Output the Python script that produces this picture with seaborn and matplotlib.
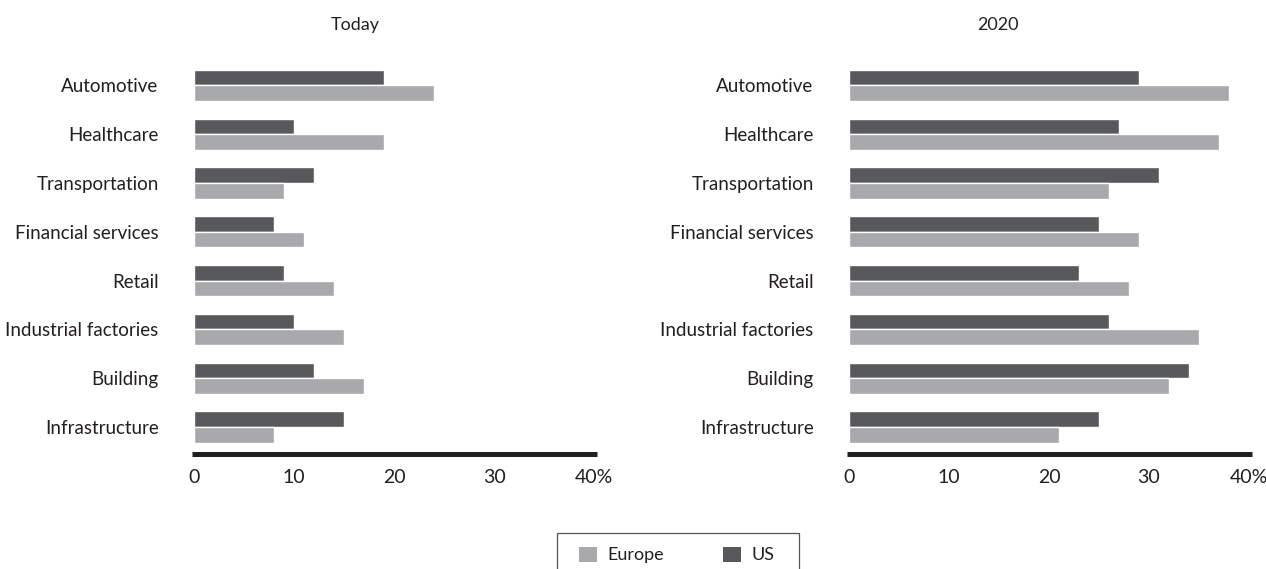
import matplotlib
matplotlib.use("Agg")
import matplotlib.pyplot as plt
from matplotlib.patches import Patch, Rectangle
import seaborn as sns
import pandas as pd

categories = ["Automotive", "Healthcare", "Transportation", "Financial services",
              "Retail", "Industrial factories", "Building", "Infrastructure"]
today_us = [19, 10, 12, 8, 9, 10, 12, 15]
today_europe = [24, 19, 9, 11, 14, 15, 17, 8]
y2020_us = [29, 27, 31, 25, 23, 26, 34, 25]
y2020_europe = [38, 37, 26, 29, 28, 35, 32, 21]
panel_titles = ["Today", "2020"]
tick_values = [0, 10, 20, 30, 40]
tick_labels = ["0", "10", "20", "30", "40%"]

DARK = "#58595b"
LIGHT = "#a7a9ac"
AXIS = "#231f20"

sns.set_style("white")
plt.rcParams["font.family"] = ["Lato", "DejaVu Sans"]

def make_df(us, eu):
    rows = []
    for c, u, e in zip(categories, us, eu):
        rows.append({"category": c, "region": "US", "value": u})
        rows.append({"category": c, "region": "Europe", "value": e})
    return pd.DataFrame(rows)

W, H = 1266, 569
fig = plt.figure(figsize=(W / 100, H / 100), dpi=100)

ax_bottom = 1 - 453.5 / H
ax_top = 1 - 56.2 / H
ax_w = 404.5 / W
lefts = [192 / W, 847 / W]
datas = [make_df(today_us, today_europe), make_df(y2020_us, y2020_europe)]
title_x = [355 / W, 998 / W]

for i in range(2):
    ax = fig.add_axes([lefts[i], ax_bottom, ax_w, ax_top - ax_bottom])
    sns.barplot(data=datas[i], y="category", x="value", hue="region",
                hue_order=["US", "Europe"], order=categories,
                palette={"US": DARK, "Europe": LIGHT}, orient="h",
                width=0.64, edgecolor="white", linewidth=1.0,
                legend=False, ax=ax, errorbar=None)
    ax.set_xlim(-0.2, 40.25)
    ax.set_ylim(7.543, -0.6)
    ax.set_xlabel("")
    ax.set_ylabel("")
    for s in ["left", "top", "right"]:
        ax.spines[s].set_visible(False)
    ax.spines["bottom"].set_linewidth(3.6)
    ax.spines["bottom"].set_color(AXIS)
    ax.spines["bottom"].set_capstyle("butt")
    ax.set_xticks(tick_values)
    ax.set_xticklabels(tick_labels)
    ax.tick_params(axis="x", length=0, pad=11, labelsize=14, colors="#231f20")
    ax.tick_params(axis="y", length=0, pad=24, labelsize=13.5, colors="#231f20")
    fig.text(title_x[i], 1 - 25 / H, panel_titles[i], ha="center", va="center",
             fontsize=13, color="#231f20")

handles = [Patch(facecolor=LIGHT, edgecolor="none", label="Europe"),
           Patch(facecolor=DARK, edgecolor="none", label="US")]
fig.legend(handles=handles, ncol=2, frameon=False, loc="center left",
           bbox_to_anchor=(579 / W, 1 - 555 / H), borderpad=0, borderaxespad=0,
           handlelength=1.0, handleheight=0.9, handletextpad=0.55,
           columnspacing=3.3, fontsize=13, labelcolor="#231f20")
fig.add_artist(Rectangle((557 / W, -0.1), (799 - 557) / W, (1 - 533 / H) + 0.1,
                         transform=fig.transFigure, fill=False,
                         edgecolor="#555555", linewidth=0.9, clip_on=False))

fig.savefig("out.png", dpi=100)
